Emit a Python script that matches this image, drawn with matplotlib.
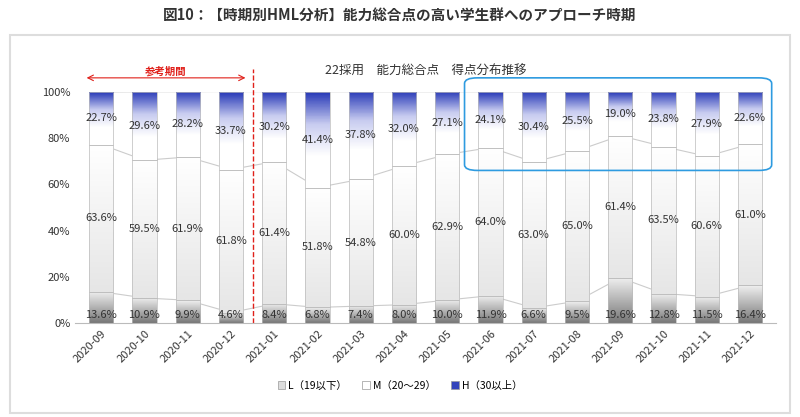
import matplotlib
matplotlib.use("Agg")
import matplotlib.pyplot as plt
import numpy as np
from matplotlib.patches import FancyBboxPatch, Rectangle
from matplotlib.colors import LinearSegmentedColormap

plt.rcParams['font.family'] = ['Noto Sans CJK JP']

months = ["2020-09","2020-10","2020-11","2020-12","2021-01","2021-02","2021-03","2021-04",
          "2021-05","2021-06","2021-07","2021-08","2021-09","2021-10","2021-11","2021-12"]
L = [13.6,10.9,9.9,4.6,8.4,6.8,7.4,8.0,10.0,11.9,6.6,9.5,19.6,12.8,11.5,16.4]
M = [63.6,59.5,61.9,61.8,61.4,51.8,54.8,60.0,62.9,64.0,63.0,65.0,61.4,63.5,60.6,61.0]
H = [22.7,29.6,28.2,33.7,30.2,41.4,37.8,32.0,27.1,24.1,30.4,25.5,19.0,23.8,27.9,22.6]
legend_labels = ["L（19以下）", "M（20～29）", "H（30以上）"]

fig = plt.figure(figsize=(8, 4.17), dpi=100)
fig.text(0.5, 0.965, "図10：【時期別HML分析】能力総合点の高い学生群へのアプローチ時期",
         ha='center', va='center', fontsize=10.5, fontweight='bold', color='#333333')
fig.patches.append(Rectangle((0.012, 0.01), 0.976, 0.905, transform=fig.transFigure,
                             fill=False, ec='#dddddd', lw=1.5))

ax = fig.add_axes([0.094, 0.225, 0.876, 0.555])
x = np.arange(len(months))
w = 0.56
cmaps = [LinearSegmentedColormap.from_list('l', ['#777777', '#f0f0f0']),
         LinearSegmentedColormap.from_list('m', ['#e6e6e6', '#ffffff']),
         LinearSegmentedColormap.from_list('h', ['#ffffff', '#ffffff', '#c8ccf0', '#2a3bb8'])]
grad = np.linspace(0, 1, 64).reshape(-1, 1)
bottom = np.zeros(len(months))
for vals, cm in zip([L, M, H], cmaps):
    vals = np.array(vals)
    bars = ax.bar(x, vals, w, bottom=bottom, color='none', ec='#bbbbbb', lw=0.5, zorder=2)
    for b in bars:
        im = ax.imshow(grad, cmap=cm, aspect='auto', origin='lower',
                       extent=[b.get_x(), b.get_x() + b.get_width(), b.get_y(), b.get_y() + b.get_height()],
                       zorder=1)
        im.set_clip_path(b)
    top = bottom + vals
    ax.plot(x, top, color='#cccccc', lw=0.8, zorder=0.5)
    bottom = top

for i in range(len(months)):
    ax.text(x[i], 1.5, f"{L[i]:.1f}%", ha='center', va='bottom', fontsize=8, color='#333333', zorder=3)
    ax.text(x[i], L[i] + M[i] / 2, f"{M[i]:.1f}%", ha='center', va='center', fontsize=8, color='#333333', zorder=3)
    ax.text(x[i], L[i] + M[i] + H[i] / 2, f"{H[i]:.1f}%", ha='center', va='center', fontsize=8, color='#333333', zorder=3)

ax.set_xlim(-0.6, len(months) - 0.4)
ax.set_ylim(0, 100)
ax.set_yticks(range(0, 101, 20))
ax.set_yticklabels([f"{v}%" for v in range(0, 101, 20)], fontsize=8, color='#333333')
ax.set_xticks(x)
ax.set_xticklabels(months, rotation=45, ha='right', rotation_mode='anchor', fontsize=8, color='#333333')
ax.tick_params(length=0)
for s in ['top', 'right', 'left']:
    ax.spines[s].set_visible(False)
ax.spines['bottom'].set_color('#bbbbbb')
ax.grid(False)

ax.axvline(3.5, ymin=0, ymax=1.1, color='#e0201a', ls='--', lw=1, clip_on=False)
ax.annotate("", xy=(-0.4, 106), xytext=(3.4, 106),
            arrowprops=dict(arrowstyle='<->', color='#e0201a', lw=0.8), annotation_clip=False)
ax.text(1.5, 106.5, "参考期間", ha='center', va='bottom', fontsize=7.5, color='#e0201a',
        fontweight='bold', bbox=dict(fc='white', ec='none', pad=0.5))
ax.text(7.5, 109, "22採用　能力総合点　得点分布推移", ha='center', va='center', fontsize=9, color='#333333')
ax.add_patch(FancyBboxPatch((8.4, 66), 7.1, 40, boxstyle="round,pad=0,rounding_size=0.3",
                            fill=False, ec='#2e9be0', lw=1.2, clip_on=False, zorder=4,
                            mutation_aspect=8))

hs = [Rectangle((0, 0), 1, 1, fc=c, ec='#999999', lw=0.5) for c in ['#dddddd', '#ffffff', '#3344bb']]
fig.legend(hs, legend_labels, loc='center', bbox_to_anchor=(0.5, 0.075), ncol=3, frameon=False,
           fontsize=7.5, handlelength=0.7, handleheight=0.7, columnspacing=1.5, handletextpad=0.3)

fig.savefig("out.png", dpi=100)
